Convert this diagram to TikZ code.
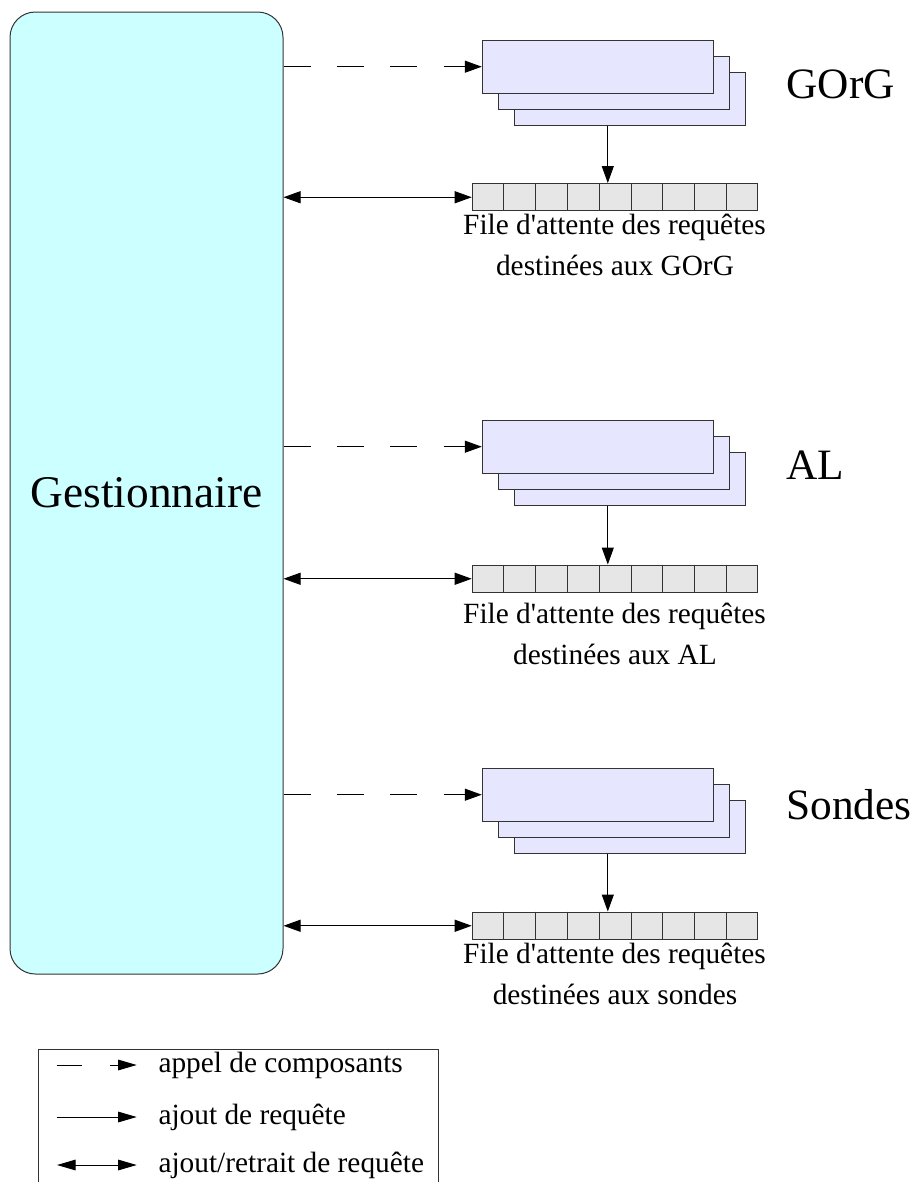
\documentclass[tikz,border=0pt]{standalone}
\usepackage{fontspec}
\setmainfont{Liberation Serif}[Ligatures=TeXOff]
\usetikzlibrary{arrows.meta,calc}

\definecolor{gestfill}{HTML}{CCFFFF}
\definecolor{compfill}{HTML}{E6E6FF}
\definecolor{queuefill}{HTML}{E6E6E6}
\definecolor{edge}{HTML}{333333}

\tikzset{
  tipend/.style={-{Triangle[length=12.75pt,width=9pt]}},
  tipboth/.style={{Triangle[length=12.75pt,width=9pt]}-{Triangle[length=12.75pt,width=9pt]}},
  calldash/.style={dash pattern=on 20.25pt off 19.75pt},
  gestbox/.style={draw=edge, fill=gestfill, rounded corners=19pt,
    minimum width=204.75pt, minimum height=721.5pt, inner sep=0pt,
    font=\fontsize{34}{40}\selectfont},
  compbox/.style={draw=edge, fill=compfill, minimum width=173.25pt,
    minimum height=40pt, inner sep=0pt},
  queuebox/.style={draw=edge, fill=queuefill, minimum width=214.3pt,
    minimum height=20.6pt, inner sep=0pt},
  qtext/.style={anchor=base, inner sep=0pt, font=\fontsize{22}{26}\selectfont},
  grouplabel/.style={anchor=base west, inner sep=0pt, font=\fontsize{32.5}{38}\selectfont},
  legtext/.style={anchor=base west, inner sep=0pt, font=\fontsize{22}{26}\selectfont},
  legtip/.style={-{Triangle[length=14pt,width=8pt]}},
  legtipboth/.style={{Triangle[length=14pt,width=8pt]}-{Triangle[length=14pt,width=8pt]}}
}

% #1 prefix, #2 top of the front component box, #3 top of the queue,
% #4 group label, #5 label baseline, #6 second caption line, #7 caption baseline
\newcommand\componentgroup[7]{
  \node[compbox] (#1c3) at (629.8,#2+58.7) {};
  \node[compbox] (#1c2) at (613.8,#2+42.7) {};
  \node[compbox] (#1c1) at (597.8,#2+26.7) {};
  \node[queuebox] (#1q) at (615.1,#3+13.75) {};
  \foreach \i in {1,...,8}
    \draw[edge] ($(#1q.north west)!\i/9!(#1q.north east)$) --
                ($(#1q.south west)!\i/9!(#1q.south east)$);
  \node[grouplabel] (#1lab) at (786,#5) {#4};
  \node[qtext] (#1t1) at (614.5,#7) {File d'attente des requêtes};
  \node[qtext] (#1t2) at (615,#7+41) {destinées aux #6};
  % call of the components
  \draw[calldash, tipend] (gest.east |- #1c1.west) -- (#1c1.west);
  % a request is put into the queue
  \draw[tipend] ([xshift=-16.5pt]#1c3.south) -- ([xshift=-16.5pt]#1c3.south |- #1q.north);
  % requests put into or taken from the queue
  \draw[tipboth] (gest.east |- #1q.west) -- (#1q.west);
}

\begin{document}
\begin{tikzpicture}[x=0.75pt,y=-0.75pt,line width=0.75pt]
  \useasboundingbox (0,0) rectangle (919,1182);

  \node[gestbox] (gest) at (146.5,493) {Gestionnaire};

  \componentgroup{g}{40}{183.5}{GOrG}{98.3}{GOrG}{234}
  \componentgroup{a}{420}{565}{AL}{479.3}{AL}{623}
  \componentgroup{s}{768}{912}{Sondes}{819.3}{sondes}{963}

  % legend
  \draw[edge] (38,1182) -- (38,1049) -- (438,1049) -- (438,1182);
  \coordinate (l1a) at (56.7,1065);
  \coordinate (l1b) at (136.7,1065);
  \coordinate (l2a) at (56.7,1117);
  \coordinate (l2b) at (136.7,1117);
  \coordinate (l3a) at (57,1165);
  \coordinate (l3b) at (136.7,1165);
  \draw[dash pattern=on 18.75pt off 21pt, legtip] (l1a) -- (l1b);
  \draw[legtip] (l2a) -- (l2b);
  \draw[legtipboth] (l3a) -- (l3b);
  \node[legtext] (leg1) at (158,1072) {appel de composants};
  \node[legtext] (leg2) at (158,1124) {ajout de requête};
  \node[legtext] (leg3) at (158,1172) {ajout/retrait de requête};
\end{tikzpicture}
\end{document}
